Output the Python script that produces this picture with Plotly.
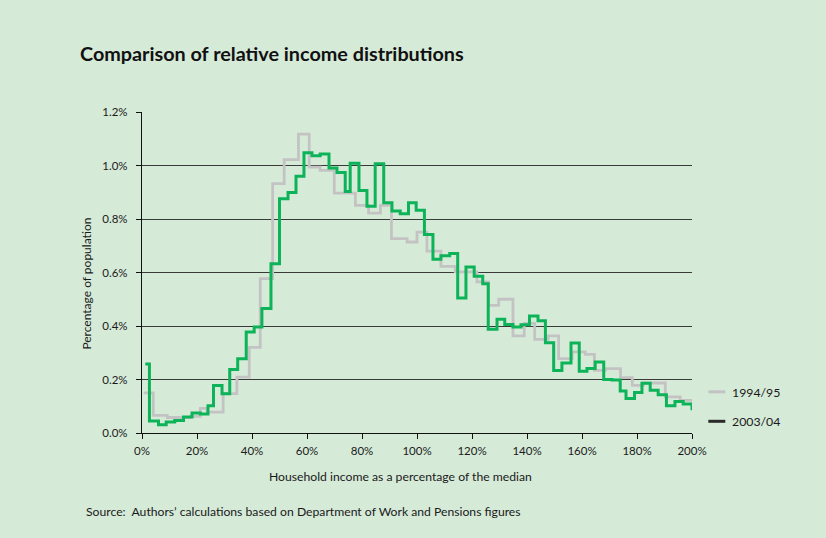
import plotly.graph_objects as go

# Household income as % of median (bin start), percentage of population
x_2003 = [1.2, 2.7, 6.0, 8.8, 11.9, 15.1, 18.2, 21.2, 24.0, 26.0, 29.1, 31.9, 34.8, 37.9,
          40.8, 43.6, 46.9, 50.0, 53.1, 56.0, 58.9, 61.8, 64.8, 68.0, 70.9, 73.9, 75.7,
          78.9, 81.8, 84.8, 87.9, 90.9, 93.9, 96.9, 99.7, 102.7, 105.8, 108.7, 111.9,
          114.8, 117.8, 120.8, 123.9, 125.9, 129.1, 131.9, 134.9, 137.8, 140.9, 144.0,
          146.7, 149.7, 152.7, 156.0, 159.0, 161.8, 164.8, 167.9, 170.9, 173.9, 176.0,
          179.1, 181.8, 184.8, 187.7, 190.7, 193.8, 196.8, 200.0]
y_2003 = [0.258, 0.045, 0.031, 0.041, 0.047, 0.060, 0.075, 0.071, 0.102, 0.178, 0.147, 0.237,
          0.278, 0.378, 0.396, 0.465, 0.633, 0.876, 0.899, 0.960, 1.048, 1.036, 1.043, 0.991,
          0.974, 0.903, 1.008, 0.907, 0.848, 1.007, 0.861, 0.830, 0.820, 0.861, 0.833, 0.742,
          0.650, 0.663, 0.671, 0.505, 0.621, 0.586, 0.558, 0.388, 0.425, 0.406, 0.396, 0.405,
          0.437, 0.420, 0.337, 0.234, 0.262, 0.336, 0.231, 0.241, 0.265, 0.200, 0.198, 0.157,
          0.129, 0.151, 0.186, 0.160, 0.143, 0.102, 0.118, 0.108, 0.085]

x_1994 = [0.6, 4.1, 9.2, 17.6, 21.2, 23.7, 29.5, 34.5, 39.0, 43.0, 47.5, 51.7, 56.9, 60.8,
          64.8, 69.9, 77.6, 82.4, 86.7, 90.7, 96.4, 100.0, 103.6, 108.7, 113.9, 121.8,
          126.0, 129.7, 134.9, 139.0, 142.8, 147.7, 151.5, 156.4, 161.2, 164.5, 168.5,
          174.0, 178.3, 182.3, 190.3, 195.7, 200.0]
y_1994 = [0.150, 0.066, 0.058, 0.062, 0.092, 0.078, 0.147, 0.209, 0.320, 0.577, 0.932, 1.022,
          1.117, 0.994, 0.982, 0.897, 0.851, 0.822, 0.851, 0.727, 0.714, 0.751, 0.680, 0.623,
          0.602, 0.565, 0.477, 0.500, 0.363, 0.410, 0.350, 0.363, 0.278, 0.303, 0.294, 0.234,
          0.241, 0.207, 0.178, 0.187, 0.135, 0.122, 0.122]

x_ticks = [0, 20, 40, 60, 80, 100, 120, 140, 160, 180, 200]
x_tick_labels = ["0%", "20%", "40%", "60%", "80%", "100%", "120%", "140%", "160%", "180%", "200%"]
y_ticks = [0, 0.2, 0.4, 0.6, 0.8, 1.0, 1.2]
y_tick_labels = ["0.0%", "0.2%", "0.4%", "0.6%", "0.8%", "1.0%", "1.2%"]

series_names = ["1994/95", "2003/04"]

BG = "#d6ead8"
TXT = "#1a1a1a"
FONT = "Lato"

fig = go.Figure()
fig.add_trace(go.Scatter(x=x_1994, y=y_1994, mode="lines", line_shape="hv",
                         line=dict(color="#c3c3c3", width=2.8), name=series_names[0],
                         showlegend=False))
fig.add_trace(go.Scatter(x=x_2003, y=y_2003, mode="lines", line_shape="hv",
                         line=dict(color="#0db358", width=3), name=series_names[1],
                         showlegend=False))

W, H = 826, 538
L, R, T, B = 141.7, 691.7, 111.7, 432.7


def px(xp):
    return (xp - L) / (R - L)


def py(yp):
    return (B - yp) / (B - T)


shapes = [
    dict(type="line", xref="paper", yref="paper", x0=px(708), x1=px(725), y0=py(391.5), y1=py(391.5),
         line=dict(color="#c3c3c3", width=3)),
    dict(type="line", xref="paper", yref="paper", x0=px(708), x1=px(725), y0=py(421), y1=py(421),
         line=dict(color="#2a2a2a", width=3)),
]

annotations = [
    dict(text="<b>Comparison of relative income distributions</b>", xref="paper", yref="paper",
         x=px(78), y=py(53), xanchor="left", yanchor="middle", showarrow=False,
         font=dict(size=19.8, color="#111111", family=FONT)),
    dict(text="Percentage of population", xref="paper", yref="paper", x=px(86), y=py(283),
         xanchor="center", yanchor="middle", textangle=-90, showarrow=False,
         font=dict(size=12, color=TXT, family=FONT)),
    dict(text="Household income as a percentage of the median", xref="paper", yref="paper",
         x=px(400), y=py(476), xanchor="center", yanchor="middle", showarrow=False,
         font=dict(size=12.2, color=TXT, family=FONT)),
    dict(text="Source:  Authors\u2019 calculations based on Department of Work and Pensions figures",
         xref="paper", yref="paper", x=px(84), y=py(511), xanchor="left", yanchor="middle",
         showarrow=False, font=dict(size=12.2, color=TXT, family=FONT)),
    dict(text=series_names[0], xref="paper", yref="paper", x=px(730), y=py(392), xanchor="left",
         yanchor="middle", showarrow=False, font=dict(size=12.3, color=TXT, family=FONT)),
    dict(text=series_names[1], xref="paper", yref="paper", x=px(730), y=py(421), xanchor="left",
         yanchor="middle", showarrow=False, font=dict(size=12.3, color=TXT, family=FONT)),
]

fig.update_layout(
    width=W, height=H,
    margin=dict(l=L, r=W - R, t=T, b=H - B, pad=0),
    paper_bgcolor=BG, plot_bgcolor=BG,
    font=dict(family=FONT, size=11, color=TXT),
    showlegend=False,
    shapes=shapes,
    annotations=annotations,
    xaxis=dict(range=[0, 200], tickvals=x_ticks, ticktext=x_tick_labels, showgrid=False,
               zeroline=False, showline=True, linecolor="#111111", linewidth=1.3,
               ticks="outside", ticklen=5, tickcolor="#111111", tickwidth=1.2,
               ticklabelstandoff=2,
               tickfont=dict(size=11.5, color=TXT, family=FONT), fixedrange=True),
    yaxis=dict(range=[0, 1.2], tickvals=y_ticks, ticktext=y_tick_labels, showgrid=True,
               gridcolor="#3a3a3a", gridwidth=1, zeroline=False, showline=True,
               linecolor="#111111", linewidth=1.3, ticks="outside", ticklen=5,
               tickcolor="#111111", tickwidth=1.2, ticklabelstandoff=6,
               tickfont=dict(size=11.5, color=TXT, family=FONT), fixedrange=True),
)

fig.write_html("out.html", config={"displayModeBar": False},
               post_script="document.body.style.margin='0';")
